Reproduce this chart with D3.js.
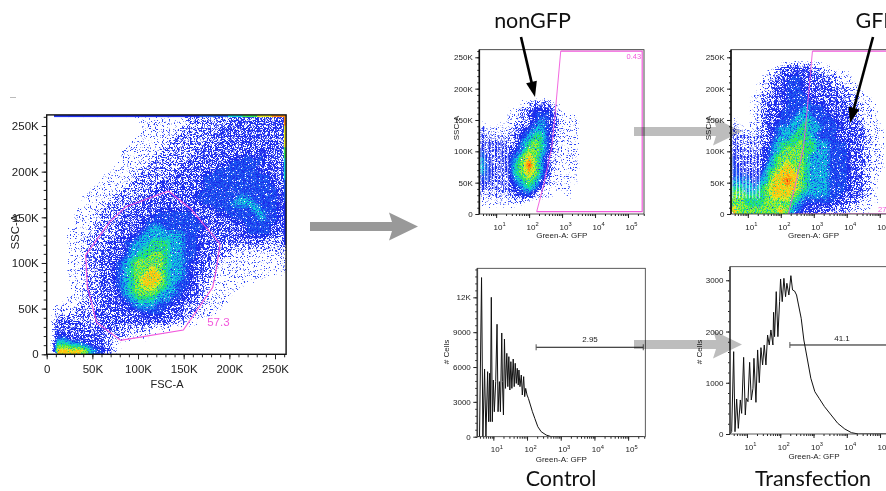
<!DOCTYPE html>
<html>
<head>
<meta charset="utf-8">
<script src="https://cdn.jsdelivr.net/npm/d3@7"></script>
<style>
html, body { margin: 0; padding: 0; background: #fff; overflow: hidden; }
svg text { font-family: "Liberation Sans", Arial, sans-serif; fill: #222; }
svg text.title { font-family: Lato, "Open Sans", sans-serif; font-size: 21.5px; fill: #111; }
</style>
</head>
<body>
<svg id="chart" width="886" height="491"></svg>
<script>
// density, digit = colour level, first row = top of the plot
// FSC/SSC plot: cells are 8K wide, rows run from 256K down to 0
const fscSscDensity = [
  "000000000000111111122222233333333",
  "000000000000011111122222333333333",
  "000000000000011111222223333333333",
  "000000000000111112222233333333333",
  "000000000001111122222333333333333",
  "000000000011111222223333333434333",
  "000000000011112222233333344444333",
  "000000000111122222333334444443333",
  "000000001111222223333444444444433",
  "000000011112222333333444444444433",
  "000000111122223333333444444444443",
  "000001111222333333334444445544443",
  "000001112223333333333444455554443",
  "000011122233333444443334444455443",
  "000011122233344444444333344445443",
  "000111222333345544444433333444433",
  "000111222233455555544333333444432",
  "000112223344556665544333333333222",
  "000112223335566665544333222222222",
  "000112233345667765544332211111111",
  "000112233456777765543322111111111",
  "000112233456778765543321111111111",
  "000112233456788865543221111111000",
  "000112233456788765443211111000000",
  "000112233356777655433211110000000",
  "000112233345666554433211100000000",
  "011122233334555443322111000000000",
  "022222333333344433322110000000000",
  "033332233333333332211000000000000",
  "033333333322221110000000000000000",
  "044333332221110000000000000000000",
  "066554332100000000000000000000000",
  "088887543100000000000000000000000"
];
// saturated events piled on the top and right edges of the FSC/SSC plot
const fscTopEdge = [1, 2, 2, 2, 2, 2, 3, 3, 3, 3, 4, 4, 5, 6, 7, 8];
const sscRightEdge = [8, 7, 7, 6, 5, 5, 4, 4, 3, 3, 3, 2];

// GFP plots: cells are 0.2 decades wide from 10^0.5, rows are 12K from 258K down to 6K
const controlDensity = [
  "0000000000000000000000000",
  "0000000000000000000000000",
  "0000000000000000000000000",
  "0000000000000000000000000",
  "0000000000000000000000000",
  "0000000000000000000000000",
  "0000000000000000000000000",
  "0000001233310000000000000",
  "0000112344431000000000000",
  "0000112345431110000000000",
  "2111123455431110000000000",
  "3222234566421110000000000",
  "3333235676421110000000000",
  "4333345776421110000000000",
  "5333457875311110000000000",
  "5433467975311110000000000",
  "5433467875311110000000000",
  "4433356764211110000000000",
  "3333345653111100000000000",
  "2222234421100100000000000",
  "1111111000000000000000000",
  "0000000000000000000000000"
];
const transfectionDensity = [
  "0000000000000000000000000",
  "0000000000000000000000000",
  "0000000233332110000000000",
  "0000012334433322110000000",
  "0000123344433332211000000",
  "0000123344433333221100000",
  "0001223344443333322110000",
  "0001233344454433332211000",
  "0001233444554443332211000",
  "1001233445565444333211000",
  "2111234555665544433311100",
  "3222234556665444333321100",
  "3222235666766554443321100",
  "3322345677766554443321100",
  "4333346777765554443321100",
  "4333356787765554443321100",
  "4443467888765554443321100",
  "5554568898765554443321000",
  "6655678888765554443321000",
  "7766678887655554433321000",
  "7766677776544444332211000",
  "8777777875433332221110000"
];
// white gaps between the channel stripes at the low end (GFP value)
const stripeGaps = [3.5, 4.5, 5.6, 7.1, 8.9, 11.2, 14.1, 17.8, 22.4];

// gates
const fscGateX = [133.2, 157.7, 189.8, 186.1, 181.8, 149.6, 81, 54.7, 44.5, 42.7, 69.3, 86.9];
const sscGateY = [178.8, 159.1, 120.8, 96, 73.4, 26.6, 15.3, 35, 74, 108.8, 145.3, 161.7];
const gfpGateLog = [2.23, 2.43, 2.69, 2.79, 2.96, 5.43, 5.43, 2.23];
const gfpGateControlSsc = [3.7, 44, 107, 160, 260, 260, 3.7, 3.7];
const gfpGateTransfSsc = [0, 44, 107, 160, 260, 260, 0, 0];

// histograms, x is log10 of GFP
const controlLog = [0.53, 0.59, 0.65, 0.69, 0.74, 0.78, 0.83, 0.86, 0.89, 0.91, 0.94, 0.97, 1.0, 1.03, 1.07, 1.11, 1.14, 1.18, 1.21, 1.25, 1.27, 1.30, 1.33, 1.36, 1.40, 1.43, 1.46, 1.49, 1.52, 1.55, 1.59, 1.62, 1.65, 1.68, 1.71, 1.74, 1.76, 1.79, 1.83, 1.86, 1.90, 1.93, 1.96, 2.0, 2.04, 2.10, 2.16, 2.23, 2.32, 2.42, 2.57, 2.72, 5.46];
const controlCells = [0, 0, 13700, 0, 5830, 0, 5600, 1290, 5460, 1290, 12000, 1290, 4880, 2150, 4740, 9680, 2150, 4740, 2150, 8930, 4740, 1870, 8410, 4160, 7180, 4310, 6890, 4020, 6460, 4160, 6690, 4310, 6320, 4590, 5890, 4450, 5740, 4310, 5310, 3590, 5170, 3450, 4160, 3590, 3300, 2730, 2150, 1580, 860, 430, 140, 0, 0];
const transfLog = [0.49, 0.54, 0.60, 0.64, 0.69, 0.74, 0.80, 0.84, 0.90, 0.95, 0.98, 1.03, 1.08, 1.13, 1.18, 1.21, 1.27, 1.32, 1.37, 1.42, 1.47, 1.52, 1.57, 1.62, 1.67, 1.72, 1.78, 1.80, 1.83, 1.88, 1.93, 1.98, 2.01, 2.06, 2.11, 2.16, 2.20, 2.26, 2.32, 2.37, 2.43, 2.49, 2.55, 2.63, 2.71, 2.82, 2.92, 3.04, 3.17, 3.33, 3.53, 3.73, 3.94, 4.14, 4.35, 5.5];
const transfCells = [0, 45, 1607, 45, 683, 110, 664, 403, 1496, 371, 696, 631, 1399, 664, 891, 1477, 618, 1640, 1002, 1685, 1347, 1737, 1347, 1932, 1737, 2030, 1737, 2375, 1900, 2778, 1900, 2583, 3025, 2583, 3038, 2680, 2941, 2713, 3090, 2811, 2791, 2713, 2518, 2258, 1835, 1444, 1087, 826, 696, 534, 371, 208, 98, 26, 0, 0];

const scatterTicks = [0, 50000, 100000, 150000, 200000, 250000];
const logTicks = [1, 2, 3, 4, 5];
const controlCountTicks = [0, 3000, 6000, 9000, 12000];
const transfCountTicks = [0, 1000, 2000, 3000];

// one band per threshold on the density digits: its colour and how sparse its speckle is
const levelThresholds = [0.3, 0.7, 1.3, 2, 2.7, 3.4, 4, 4.5, 5, 5.5, 6, 6.5, 7.2, 7.7, 8.1, 8.7];
const levelColors = ["#2f4bf5", "#2a40f5", "#2436f2", "#1f2ff0", "#1c2ced", "#1a2ceb", "#1a58f0", "#149ee8", "#10d0d8", "#18e0a0", "#30e850", "#a0ee30", "#e8e820", "#ffc010", "#ff8a10", "#f0300c"];
const levelNoiseCut = [0.67, 0.63, 0.59, 0.55, 0.5, 0.46, 0.45, 0.47, 0.47, 0.47, 0.46, 0.46, 0.44, 0.44, 0.42, 0.46];

const pink = "#f257dc";
const svg = d3.select("#chart");
const defs = svg.append("defs");

// speckle: keeps a share of the pixels of a band so it looks like single events
levelNoiseCut.forEach((t, k) => {
  const f = defs.append("filter").attr("id", "speck" + k)
    .attr("filterUnits", "userSpaceOnUse").attr("x", 0).attr("y", 0).attr("width", 886).attr("height", 491)
    .attr("color-interpolation-filters", "sRGB");
  f.append("feTurbulence").attr("type", "fractalNoise").attr("baseFrequency", 0.85).attr("numOctaves", 2).attr("seed", 3 + k * 7).attr("result", "n");
  f.append("feColorMatrix").attr("in", "n").attr("type", "matrix").attr("values", `0 0 0 0 0  0 0 0 0 0  0 0 0 0 0  0 0 0 14 ${-14 * t}`).attr("result", "m");
  f.append("feComposite").attr("in", "SourceGraphic").attr("in2", "m").attr("operator", "in").attr("result", "c");
  f.append("feGaussianBlur").attr("in", "c").attr("stdDeviation", 0.3);
});

function drawDensity(g, rows, toX, toY) {
  const n = rows[0].length, m = rows.length;
  const values = rows.join("").split("").map(Number);
  const bands = d3.contours().size([n, m]).thresholds(levelThresholds)(values);
  const path = d3.geoPath(d3.geoTransform({
    point(a, b) { this.stream.point(toX(a), toY(b)); }
  }));
  bands.forEach((band, k) => {
    g.append("g").attr("filter", `url(#speck${k})`)
      .append("path").attr("d", path(band)).attr("fill", levelColors[k]);
  });
}

function plotArea(id, x, y) {
  const [x0, x1] = x.range(), [y0, y1] = y.range();
  defs.append("clipPath").attr("id", id).append("rect")
    .attr("x", x0).attr("y", y1).attr("width", x1 - x0).attr("height", y0 - y1);
  return svg.append("g").attr("clip-path", `url(#${id})`);
}

function frame(x, y, color, width) {
  const [x0, x1] = x.range(), [y0, y1] = y.range();
  svg.append("rect").attr("x", x0).attr("y", y1).attr("width", x1 - x0).attr("height", y0 - y1)
    .attr("fill", "none").attr("stroke", color).attr("stroke-width", width);
}

function tidy(sel, fontSize) {
  sel.select(".domain").remove();
  sel.selectAll("text").attr("font-size", fontSize).attr("fill", "#222");
  sel.selectAll("line").attr("stroke", "#222");
}

function logAxis(x, y0, fontSize) {
  const minor = [];
  for (let e = 0; e < 6; e++) for (let d = 1; d < 10; d++) {
    const v = d * 10 ** e;
    if (v >= x.domain()[0] && v <= x.domain()[1]) minor.push(v);
  }
  svg.append("g").attr("transform", `translate(0,${y0})`)
    .call(d3.axisBottom(x).tickValues(minor).tickSize(2).tickFormat("")).call(s => tidy(s, 1));
  svg.append("g").attr("transform", `translate(0,${y0})`)
    .call(d3.axisBottom(x).tickValues(logTicks.map(e => 10 ** e)).tickSize(4).tickPadding(3).tickFormat(""))
    .call(s => tidy(s, fontSize))
    .selectAll(".tick text").each(function (d) {
      const t = d3.select(this).attr("dx", 3).attr("dy", "1.1em").text("10");
      t.append("tspan").attr("dy", -3.5).attr("font-size", fontSize * 0.72).text(Math.round(Math.log10(d)));
    });
}

function kFormat(v) { return v === 0 ? "0" : v / 1000 + "K"; }

function minorY(y, x0, step, size) {
  svg.append("g").attr("transform", `translate(${x0},0)`)
    .call(d3.axisLeft(y).tickValues(d3.range(0, y.domain()[1], step)).tickSize(size).tickFormat(""))
    .call(s => tidy(s, 1));
}

// left plot, FSC against SSC
const bigX = d3.scaleLinear().domain([0, 262144]).range([46.7, 286.1]);
const bigY = d3.scaleLinear().domain([0, 262144]).range([354.3, 114.9]);
const bigG = plotArea("clipBig", bigX, bigY);
drawDensity(bigG, fscSscDensity, i => bigX(i * 8000), j => bigY(264000 - j * 8000));

const edgeColor = d => levelColors[levelThresholds.findIndex(t => t >= d)];
const topEdgeBand = d3.scaleBand().domain(d3.range(fscTopEdge.length)).range([bigX(8000), bigX(262144)]);
bigG.selectAll("rect.topEdge").data(fscTopEdge).join("rect").attr("class", "topEdge")
  .attr("x", (d, i) => topEdgeBand(i)).attr("width", topEdgeBand.bandwidth() + 0.5)
  .attr("y", bigY(262144)).attr("height", 2.2).attr("fill", edgeColor);
const rightEdgeBand = d3.scaleBand().domain(d3.range(sscRightEdge.length)).range([bigY(262144), bigY(120000)]);
bigG.selectAll("rect.rightEdge").data(sscRightEdge).join("rect").attr("class", "rightEdge")
  .attr("x", bigX(262144) - 2.2).attr("width", 2.2)
  .attr("y", (d, i) => rightEdgeBand(i)).attr("height", rightEdgeBand.bandwidth() + 0.5).attr("fill", edgeColor);

svg.append("polygon")
  .attr("points", fscGateX.map((v, i) => [bigX(v * 1000), bigY(sscGateY[i] * 1000)].join(",")).join(" "))
  .attr("fill", "none").attr("stroke", pink).attr("stroke-width", 1.1);
svg.append("text").attr("x", bigX(188000)).attr("y", 325.5).attr("font-size", 11.5).attr("text-anchor", "middle").style("fill", pink).text("57.3");

svg.append("g").attr("transform", "translate(0,354.3)")
  .call(d3.axisBottom(bigX).tickValues(d3.range(0, 262144, 10000)).tickSize(3).tickFormat("")).call(s => tidy(s, 1));
svg.append("g").attr("transform", "translate(0,354.3)")
  .call(d3.axisBottom(bigX).tickValues(scatterTicks).tickSize(5).tickPadding(6).tickFormat(kFormat)).call(s => tidy(s, 11.5));
minorY(bigY, 46.7, 10000, 3);
svg.append("g").attr("transform", "translate(46.7,0)")
  .call(d3.axisLeft(bigY).tickValues(scatterTicks).tickSize(5).tickPadding(3).tickFormat(kFormat)).call(s => tidy(s, 11.5));
frame(bigX, bigY, "#111", 1.4);
svg.append("text").attr("x", 167).attr("y", 388).attr("font-size", 11).attr("text-anchor", "middle").text("FSC-A");
svg.append("text").attr("transform", "translate(18.5,232) rotate(-90)").attr("font-size", 11.5).attr("text-anchor", "middle").text("SSC-A");
svg.append("rect").attr("x", 10).attr("y", 97).attr("width", 6).attr("height", 0.8).attr("fill", "#aaa");

// upper GFP plots
const gfpDomain = [10 ** 0.49, 10 ** 5.485];
const sscDomain = [0, 262144];

function gfpScatter(id, left, rows, gateSsc, label, labelX, labelY) {
  const x = d3.scaleLog().domain(gfpDomain).range([left, left + 164.7]);
  const y = d3.scaleLinear().domain(sscDomain).range([214, 49.7]);
  const g = plotArea(id, x, y);
  drawDensity(g, rows, i => x(10 ** (0.5 + i * 0.2)), j => y(264000 - j * 12000));
  g.selectAll("line.gap").data(stripeGaps).join("line").attr("class", "gap")
    .attr("x1", d => x(d)).attr("x2", d => x(d))
    .attr("y1", y(262144)).attr("y2", y(id === "clipA" ? 0 : 25000))
    .attr("stroke", "#fff").attr("stroke-width", 0.9).attr("stroke-opacity", 0.85);
  const gate = d3.line().x(d => x(10 ** d[0])).y(d => y(d[1] * 1000));
  g.append("path").attr("d", gate(gfpGateLog.slice(0, 5).map((v, i) => [v, gateSsc[i]])))
    .attr("fill", "none").attr("stroke", pink).attr("stroke-width", 0.9);
  g.append("path").attr("d", gate(gfpGateLog.slice(4).map((v, i) => [v, gateSsc[i + 4]])))
    .attr("fill", "none").attr("stroke", pink).attr("stroke-width", 1.2);
  svg.append("text").attr("x", labelX).attr("y", labelY).attr("font-size", 7.5).style("fill", pink).text(label);

  logAxis(x, 214, 8);
  minorY(y, left, 10000, 2);
  svg.append("g").attr("transform", `translate(${left},0)`)
    .call(d3.axisLeft(y).tickValues(scatterTicks).tickSize(4).tickPadding(2.5).tickFormat(kFormat)).call(s => tidy(s, 8));
  frame(x, y, "#222", 0.8);
  svg.append("rect").attr("x", left - 0.8).attr("y", 49.7).attr("width", 1.6).attr("height", 164.3).attr("fill", "#111");
  svg.append("text").attr("transform", `translate(${left - 20},128) rotate(-90)`).attr("font-size", 8).attr("text-anchor", "middle").text("SSC-A");
  svg.append("text").attr("x", left + 82.5).attr("y", 238).attr("font-size", 8).attr("text-anchor", "middle").text("Green-A: GFP");
}
gfpScatter("clipA", 479.3, controlDensity, gfpGateControlSsc, "0.43", 626.5, 59);
gfpScatter("clipB", 731, transfectionDensity, gfpGateTransfSsc, "27.6", 878, 212);

// lower histograms
function gfpHistogram(id, left, right, top, bottom, maxCount, logRange, xs, ys, ticks, gateLog, gateCount, gateLabel, labelX, labelY) {
  const x = d3.scaleLog().domain(logRange.map(v => 10 ** v)).range([left, right]);
  const y = d3.scaleLinear().domain([0, maxCount]).range([bottom, top]);
  const g = plotArea(id, x, y);
  const line = d3.line().x(d => x(10 ** d[0])).y(d => y(d[1]));
  g.append("path").attr("d", line(xs.map((v, i) => [v, ys[i]])))
    .attr("fill", "none").attr("stroke", "#111").attr("stroke-width", 1);

  logAxis(x, bottom, 8);
  minorY(y, left, ticks[1] / 5, 2);
  svg.append("g").attr("transform", `translate(${left},0)`)
    .call(d3.axisLeft(y).tickValues(ticks).tickSize(4).tickPadding(2.5).tickFormat(v => v >= 12000 ? v / 1000 + "K" : v)).call(s => tidy(s, 8));
  frame(x, y, "#333", 0.8);
  svg.append("rect").attr("x", left - 0.8).attr("y", top).attr("width", 1.6).attr("height", bottom - top).attr("fill", "#444");

  const gx = x(10 ** gateLog[0]), gxEnd = x(10 ** gateLog[1]), gy = y(gateCount);
  svg.append("path").attr("d", `M${gx},${gy}H${gxEnd}`).attr("stroke", "#111").attr("stroke-width", 1);
  svg.append("path").attr("d", `M${gx},${gy - 3}V${gy + 3}M${gxEnd},${gy - 3}V${gy + 3}`).attr("stroke", "#555").attr("stroke-width", 1);
  svg.append("text").attr("x", labelX).attr("y", labelY).attr("font-size", 8).attr("text-anchor", "middle").text(gateLabel);

  svg.append("text").attr("transform", `translate(${left - 28},352) rotate(-90)`).attr("font-size", 8).attr("text-anchor", "middle").text("# Cells");
  svg.append("text").attr("x", left + 84).attr("y", bottom + 24.8).attr("font-size", 8).attr("text-anchor", "middle").text("Green-A: GFP");
}
gfpHistogram("clipC", 477.3, 645.3, 268.3, 436.7, 14500, [0.524, 5.51], controlLog, controlCells, controlCountTicks, [2.27, 5.45], 7700, "2.95", 590, 342);
gfpHistogram("clipD", 730, 898, 266.7, 434, 3265, [0.49, 5.54], transfLog, transfCells, transfCountTicks, [2.29, 5.54], 1737, "41.1", 842, 341);

// flow arrows between the panels, multiplied so the plots show through
function blockArrow(x0, x1, cy, half, headLen, headHalf, color) {
  const notch = 3;
  const arrowPath = d3.path();
  arrowPath.moveTo(x0, cy - half);
  arrowPath.lineTo(x1 - headLen, cy - half);
  arrowPath.lineTo(x1 - headLen - notch, cy - headHalf);
  arrowPath.lineTo(x1, cy);
  arrowPath.lineTo(x1 - headLen - notch, cy + headHalf);
  arrowPath.lineTo(x1 - headLen, cy + half);
  arrowPath.lineTo(x0, cy + half);
  arrowPath.closePath();
  svg.append("path").attr("d", arrowPath.toString()).attr("fill", color).style("mix-blend-mode", "multiply");
}
blockArrow(310, 418, 226.5, 4.5, 26, 14, "#999999");
blockArrow(634, 742, 131.5, 4.5, 26, 14, "#bdbdbd");
blockArrow(634, 742, 344.5, 4.5, 26, 14, "#bdbdbd");

function blackArrow(x0, y0, x1, y1) {
  const a = Math.atan2(y1 - y0, x1 - x0), len = 14, w = 5.5;
  const bx = x1 - len * Math.cos(a), by = y1 - len * Math.sin(a);
  svg.append("line").attr("x1", x0).attr("y1", y0).attr("x2", bx).attr("y2", by).attr("stroke", "#000").attr("stroke-width", 2.6);
  svg.append("polygon").attr("fill", "#000").attr("points", [
    [x1, y1],
    [bx - w * Math.sin(a) - 1.5 * Math.cos(a), by + w * Math.cos(a) - 1.5 * Math.sin(a)],
    [bx + w * Math.sin(a) - 1.5 * Math.cos(a), by - w * Math.cos(a) - 1.5 * Math.sin(a)]
  ].map(p => p.join(",")).join(" "));
}
blackArrow(521, 37, 535, 97);
blackArrow(873, 37, 850, 123);

svg.append("text").attr("class", "title").attr("x", 532.5).attr("y", 28).attr("text-anchor", "middle").text("nonGFP");
svg.append("text").attr("class", "title").attr("x", 855.5).attr("y", 28).text("GFP");
svg.append("text").attr("class", "title").attr("x", 561).attr("y", 486).attr("text-anchor", "middle").text("Control");
svg.append("text").attr("class", "title").attr("x", 813).attr("y", 486).attr("text-anchor", "middle").text("Transfection");
</script>
</body>
</html>
